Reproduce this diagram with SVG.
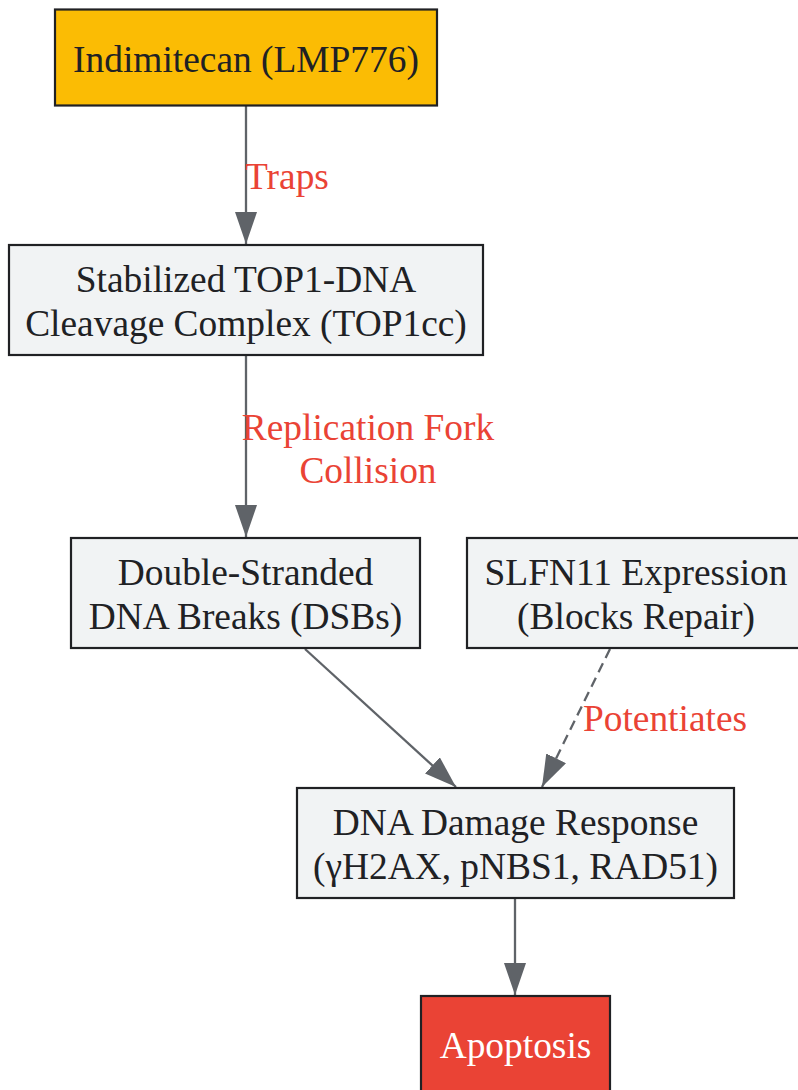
<svg xmlns="http://www.w3.org/2000/svg" width="798" height="1090" viewBox="0 0 798 1090">
<style>
.box{fill:#F1F3F4;stroke:#202124;stroke-width:2.2}
.t{font-family:"Liberation Serif",serif;font-size:37.4px;fill:#202124;text-anchor:middle}
.lbl{font-family:"Liberation Serif",serif;font-size:37.4px;fill:#EA4335;text-anchor:middle}
.e{fill:none;stroke:#5F6368;stroke-width:2.3}
.d{stroke-dasharray:10,6}
</style>
<defs>
<marker id="ah" viewBox="0 0 32 22" refX="32" refY="11" markerWidth="32" markerHeight="22" markerUnits="userSpaceOnUse" orient="auto">
<path d="M0,0 L32,11 L0,22 Z" fill="#5F6368"/>
</marker>
</defs>
<rect width="798" height="1090" fill="#FFFFFF"/>
<g id="edges">
<path class="e" d="M246,106 L246,244" marker-end="url(#ah)"/>
<path class="e" d="M246,356 L246,537" marker-end="url(#ah)"/>
<path class="e" d="M305,649 L456,787" marker-end="url(#ah)"/>
<path class="e d" d="M610,649 L542,787" marker-end="url(#ah)"/>
<path class="e" d="M515,898 L515,995" marker-end="url(#ah)"/>
<text class="lbl" x="287" y="189">Traps</text>
<text class="lbl" x="368" y="440">Replication Fork</text>
<text class="lbl" x="368" y="483">Collision</text>
<text class="lbl" x="665" y="731">Potentiates</text>
</g>
<g id="indimitecan">
<rect x="55" y="9.5" width="382" height="96" fill="#FBBC04" stroke="#202124" stroke-width="2.2"/>
<text class="t" x="246" y="72">Indimitecan (LMP776)</text>
</g>
<g id="top1cc">
<rect class="box" x="9" y="245" width="474" height="110"/>
<text class="t" x="246" y="292">Stabilized TOP1-DNA</text>
<text class="t" x="246" y="336">Cleavage Complex (TOP1cc)</text>
</g>
<g id="dsb">
<rect class="box" x="71" y="538" width="349" height="110"/>
<text class="t" x="245.5" y="585">Double-Stranded</text>
<text class="t" x="245.5" y="629">DNA Breaks (DSBs)</text>
</g>
<g id="slfn11">
<rect class="box" x="467" y="538" width="338" height="110"/>
<text class="t" x="636" y="585">SLFN11 Expression</text>
<text class="t" x="636" y="629">(Blocks Repair)</text>
</g>
<g id="ddr">
<rect class="box" x="297" y="788" width="437" height="110"/>
<text class="t" x="515.5" y="835">DNA Damage Response</text>
<text class="t" x="515.5" y="879">(γH2AX, pNBS1, RAD51)</text>
</g>
<g id="apoptosis">
<rect x="421" y="996" width="189" height="96" fill="#EA4335" stroke="#202124" stroke-width="2.2"/>
<text class="t" x="515.5" y="1058" style="fill:#FFFFFF">Apoptosis</text>
</g>
</svg>
